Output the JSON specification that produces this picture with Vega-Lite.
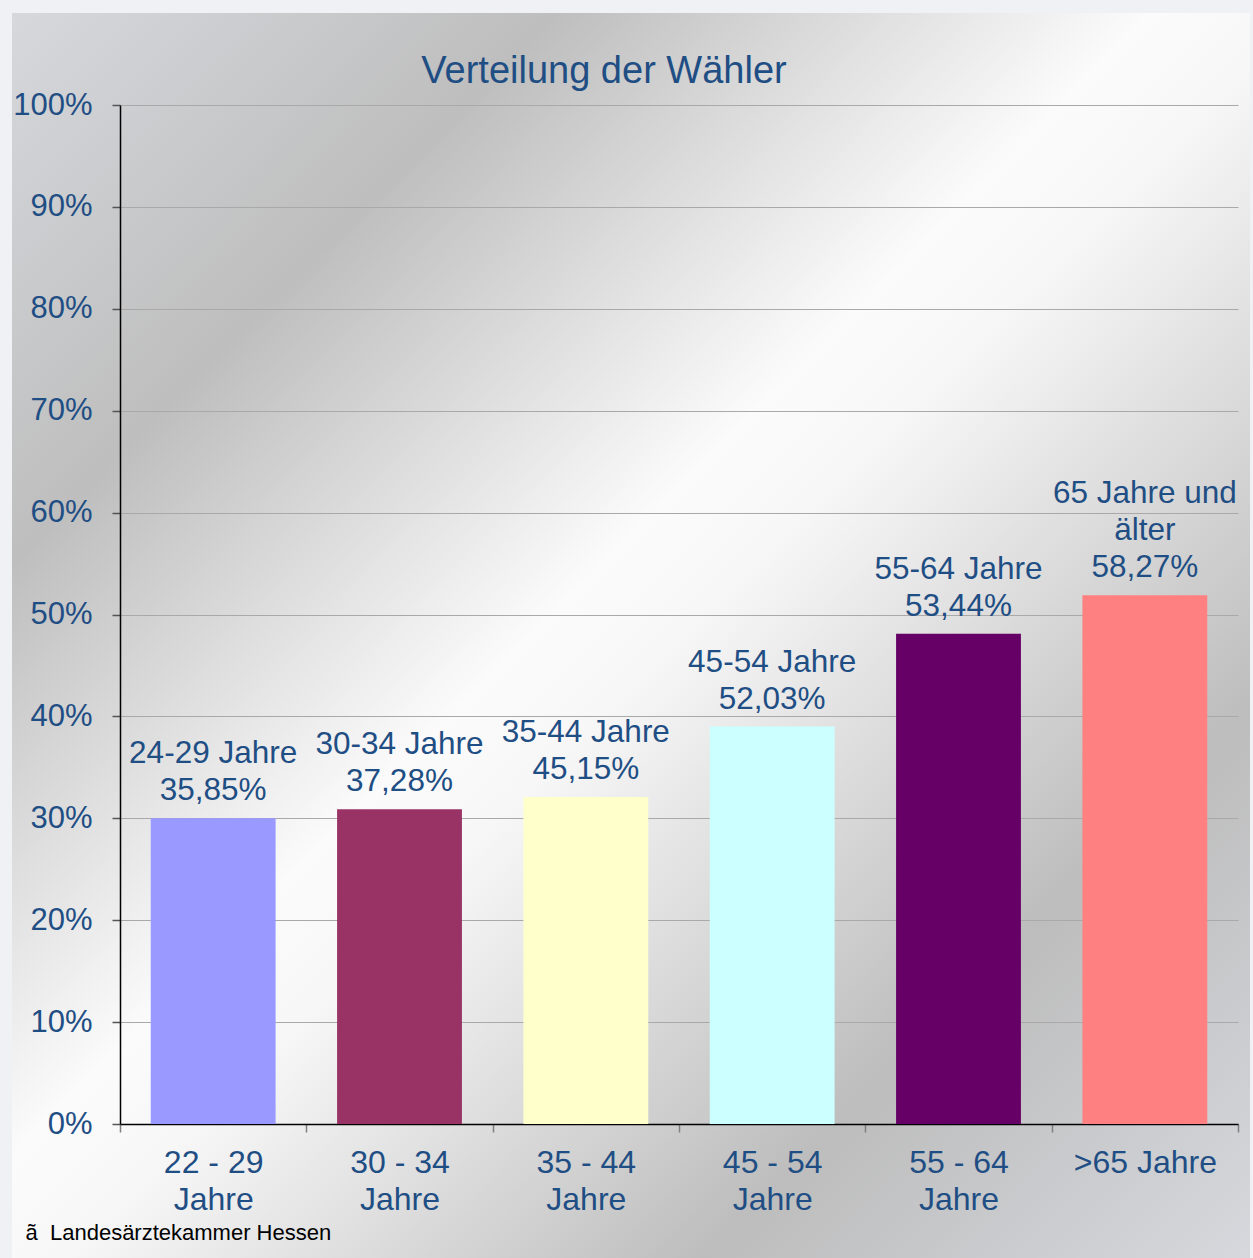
{
  "$schema": "https://vega.github.io/schema/vega-lite/v6.json",
  "width": 1238,
  "height": 1245,
  "autosize": {"type": "none"},
  "padding": {"left": 12, "top": 13, "right": 3, "bottom": 0},
  "background": "#eff1f4",
  "title": {
    "text": "Verteilung der Wähler",
    "anchor": "middle",
    "frame": "group",
    "orient": "top",
    "offset": 0,
    "dy": 108,
    "dx": -27,
    "baseline": "alphabetic",
    "font": "Liberation Sans",
    "fontSize": 38,
    "fontWeight": "normal",
    "color": "#1F4E84"
  },
  "data": {
    "values": [
      {"group": "22 - 29\nJahre", "value": 0.300, "label": "24-29 Jahre\n35,85%"},
      {"group": "30 - 34\nJahre", "value": 0.309, "label": "30-34 Jahre\n37,28%"},
      {"group": "35 - 44\nJahre", "value": 0.321, "label": "35-44 Jahre\n45,15%"},
      {"group": "45 - 54\nJahre", "value": 0.390, "label": "45-54 Jahre\n52,03%"},
      {"group": "55 - 64\nJahre", "value": 0.481, "label": "55-64 Jahre\n53,44%"},
      {"group": ">65 Jahre", "value": 0.519, "label": "65 Jahre und\nälter\n58,27%"}
    ]
  },
  "encoding": {
    "x": {
      "field": "group",
      "type": "nominal",
      "sort": null,
      "scale": {"range": [108, 1226], "paddingInner": 0, "paddingOuter": 0},
      "axis": {
        "orient": "bottom",
        "offset": -134,
        "tickBand": "extent",
        "grid": false,
        "domainColor": "#000000",
        "domainWidth": 1.5,
        "tickColor": "#7f7f7f",
        "tickSize": 8,
        "tickWidth": 1.5,
        "labelAngle": 0,
        "labelFont": "Liberation Sans",
        "labelFontSize": 32,
        "labelColor": "#1F4E84",
        "labelLineHeight": 37,
        "labelPadding": 15,
        "labelBaseline": "top",
        "labelExpr": "split(datum.label, '\\n')",
        "title": "ã\u00a0\u00a0Landesärztekammer Hessen",
        "titleX": 13,
        "titleY": 115,
        "titleAlign": "left",
        "titleAnchor": "start",
        "titleBaseline": "alphabetic",
        "titleColor": "#000000",
        "titleFont": "Liberation Sans",
        "titleFontSize": 22,
        "titleFontWeight": "normal"
      }
    },
    "y": {
      "field": "value",
      "type": "quantitative",
      "scale": {"domain": [0, 1], "range": [1111, 92], "nice": false, "zero": true},
      "axis": {
        "orient": "left",
        "offset": -108,
        "values": [0, 0.1, 0.2, 0.3, 0.4, 0.5, 0.6, 0.7, 0.8, 0.9, 1],
        "format": ".0%",
        "grid": true,
        "gridColor": "#a9a9a9",
        "gridWidth": 1,
        "domainColor": "#000000",
        "domainWidth": 1.5,
        "tickColor": "#555555",
        "tickSize": 8,
        "tickWidth": 1.5,
        "labelFont": "Liberation Sans",
        "labelFontSize": 31,
        "labelColor": "#1F4E84",
        "labelPadding": 20,
        "title": null
      }
    }
  },
  "layer": [
    {
      "mark": {"type": "bar", "width": {"band": 0.67}},
      "encoding": {
        "color": {
          "field": "group",
          "type": "nominal",
          "sort": null,
          "scale": {
            "domain": ["22 - 29\nJahre", "30 - 34\nJahre", "35 - 44\nJahre", "45 - 54\nJahre", "55 - 64\nJahre", ">65 Jahre"],
            "range": ["#9999FF", "#993366", "#FFFFCC", "#CCFFFF", "#660066", "#FF8080"]
          },
          "legend": null
        }
      }
    },
    {
      "transform": [{"filter": "datum.group != '>65 Jahre'"}],
      "mark": {
        "type": "text",
        "lineBreak": "\n",
        "baseline": "bottom",
        "align": "center",
        "dy": -48,
        "lineHeight": 37,
        "font": "Liberation Sans",
        "fontSize": 31.5,
        "color": "#1F4E84"
      },
      "encoding": {"text": {"field": "label", "type": "nominal"}}
    },
    {
      "transform": [{"filter": "datum.group == '>65 Jahre'"}],
      "mark": {
        "type": "text",
        "lineBreak": "\n",
        "baseline": "bottom",
        "align": "center",
        "dy": -85,
        "lineHeight": 37,
        "font": "Liberation Sans",
        "fontSize": 31.5,
        "color": "#1F4E84"
      },
      "encoding": {"text": {"field": "label", "type": "nominal"}}
    }
  ],
  "config": {
    "view": {
      "stroke": null,
      "fill": {
        "gradient": "linear",
        "x1": 0, "y1": 0, "x2": 1, "y2": 1,
        "stops": [
          {"offset": 0, "color": "#d6d8dc"},
          {"offset": 0.22, "color": "#bebebe"},
          {"offset": 0.46, "color": "#fbfbfb"},
          {"offset": 0.52, "color": "#f7f7f7"},
          {"offset": 0.78, "color": "#bdbdbd"},
          {"offset": 1, "color": "#d6d8dd"}
        ]
      }
    }
  }
}
